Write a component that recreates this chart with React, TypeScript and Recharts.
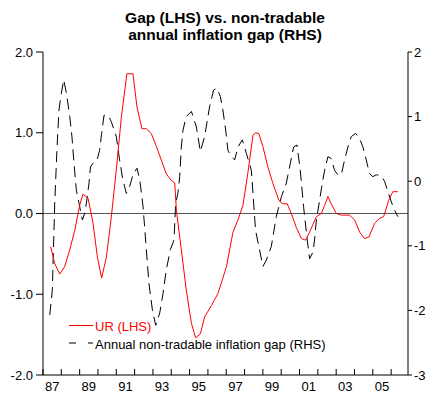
import { LineChart, Line, XAxis, YAxis, ReferenceLine, Legend } from 'recharts'

// UR gap, left axis (year as decimal)
const urYears = [
  1987.42, 1987.64, 1987.91, 1988.18, 1988.46, 1988.73, 1989.0, 1989.18, 1989.46, 1989.73,
  1989.97, 1990.2, 1990.46, 1990.73, 1991.0, 1991.28, 1991.58, 1991.91, 1992.13, 1992.4,
  1992.64, 1992.91, 1993.19, 1993.46, 1993.73, 1994.0, 1994.19, 1994.28, 1994.55, 1994.82,
  1995.1, 1995.33, 1995.59, 1995.82, 1996.19, 1996.55, 1997.01, 1997.37, 1997.64, 1997.91,
  1998.18, 1998.46, 1998.59, 1998.78, 1999.0, 1999.27, 1999.55, 1999.88, 2000.09, 2000.33,
  2000.55, 2000.82, 2001.1, 2001.33, 2001.55, 2001.92, 2002.19, 2002.37, 2002.55, 2002.73,
  2003.01, 2003.28, 2003.73, 2004.01, 2004.28, 2004.55, 2004.79, 2005.1, 2005.37, 2005.59,
  2005.86, 2006.09, 2006.37,
]
const urValues = [
  -0.41, -0.62, -0.75, -0.66, -0.45, -0.21, 0.1, 0.24, 0.19, -0.12,
  -0.54, -0.8, -0.54, -0.04, 0.54, 1.2, 1.73, 1.73, 1.32, 1.05,
  1.05, 0.99, 0.83, 0.66, 0.49, 0.41, 0.38, 0.04, -0.45, -0.95,
  -1.36, -1.54, -1.49, -1.28, -1.14, -0.99, -0.66, -0.23, -0.08, 0.1,
  0.5, 0.97, 1.0, 0.99, 0.83, 0.58, 0.37, 0.16, 0.12, 0.12,
  0.0, -0.17, -0.31, -0.33, -0.23, -0.04, 0.0, 0.1, 0.21, 0.12,
  0.0, -0.02, -0.02, -0.08, -0.23, -0.31, -0.29, -0.12, -0.06, -0.04,
  0.16, 0.27, 0.27,
]

// annual non-tradable inflation gap, right axis
const gapYears = [
  1987.37, 1987.51, 1987.64, 1987.76, 1987.87, 1988.0, 1988.13, 1988.28, 1988.46, 1988.58,
  1988.69, 1988.82, 1989.0, 1989.15, 1989.27, 1989.37, 1989.51, 1989.59, 1989.73, 1989.95,
  1990.09, 1990.2, 1990.33, 1990.55, 1990.73, 1991.0, 1991.18, 1991.36, 1991.55, 1991.73,
  1991.91, 1992.13, 1992.28, 1992.46, 1992.64, 1992.78, 1992.97, 1993.15, 1993.37, 1993.55,
  1993.73, 1993.95, 1994.15, 1994.24, 1994.36, 1994.46, 1994.55, 1994.64, 1994.82, 1995.1,
  1995.37, 1995.59, 1995.82, 1996.09, 1996.31, 1996.49, 1996.68, 1996.82, 1996.97, 1997.09,
  1997.28, 1997.46, 1997.64, 1997.88, 1998.1, 1998.37, 1998.46, 1998.6, 1998.78, 1999.0,
  1999.19, 1999.46, 1999.73, 2000.01, 2000.28, 2000.5, 2000.68, 2000.86, 2001.04, 2001.22,
  2001.4, 2001.55, 2001.73, 2001.82, 2001.92, 2002.1, 2002.24, 2002.37, 2002.55, 2002.73,
  2002.91, 2003.09, 2003.28, 2003.46, 2003.64, 2003.82, 2004.06, 2004.28, 2004.46, 2004.64,
  2004.82, 2005.0, 2005.19, 2005.46, 2005.64, 2005.82, 2006.01, 2006.19, 2006.37,
]
const gapValues = [
  -2.07, -1.68, -0.34, 0.48, 1.1, 1.36, 1.57, 1.36, 1.0, 0.69,
  0.28, -0.14, -0.39, -0.6, -0.5, -0.34, -0.03, 0.22, 0.28, 0.33,
  0.48, 0.74, 1.02, 1.02, 0.92, 0.69, 0.33, 0.02, -0.19, -0.08,
  0.1, 0.2, 0.02, -0.39, -1.06, -1.58, -1.99, -2.23, -2.04, -1.74,
  -1.37, -1.06, -0.91, -0.34, -0.19, 0.07, 0.53, 0.79, 1.0, 1.08,
  0.84, 0.46, 0.69, 1.15, 1.41, 1.44, 1.31, 1.1, 0.79, 0.48,
  0.38, 0.33, 0.53, 0.64, 0.43, 0.17, -0.19, -0.76, -1.01, -1.32,
  -1.22, -1.01, -0.55, -0.24, -0.03, 0.28, 0.53, 0.56, 0.17, -0.39,
  -0.86, -1.2, -1.1, -0.91, -0.6, -0.29, -0.03, 0.17, 0.38, 0.35,
  0.17, 0.1, 0.1, 0.33, 0.53, 0.69, 0.74, 0.66, 0.53, 0.33,
  0.12, 0.07, 0.1, 0.08, 0.0, -0.16, -0.32, -0.45, -0.55,
]

const leftTicks = [-2, -1, 0, 1, 2]
const rightTicks = [-3, -2, -1, 0, 1, 2]
const yearTicks = [
  1987, 1988, 1989, 1990, 1991, 1992, 1993, 1994, 1995, 1996,
  1997, 1998, 1999, 2000, 2001, 2002, 2003, 2004, 2005, 2006,
]
const labelYears = [1987.5, 1989.5, 1991.5, 1993.5, 1995.5, 1997.5, 1999.5, 2001.5, 2003.5, 2005.5]
const yearLabels = ['87', '89', '91', '93', '95', '97', '99', '01', '03', '05']

const urData = urYears.map((year, i) => ({ year, ur: urValues[i] }))
const gapData = gapYears.map((year, i) => ({ year, gap: gapValues[i] }))
const xTicks = [...yearTicks, ...labelYears].sort((a, b) => a - b)

const font = '"Liberation Sans", Arial, sans-serif'

// year ticks point up into the plot, labels sit between them
function YearTick({ x, y, payload }: any) {
  const i = labelYears.indexOf(payload.value)
  if (i >= 0) {
    return (
      <text x={x} y={y + 16} textAnchor="middle" fontSize={13} fill="#000">
        {yearLabels[i]}
      </text>
    )
  }
  return <line x1={x} x2={x} y1={y} y2={y - 6} stroke="#000" />
}

function LegendBox() {
  return (
    <svg width={300} height={40} style={{ display: 'block', overflow: 'visible' }}>
      <line x1={1} x2={25} y1={11.5} y2={11.5} stroke="#ff0000" />
      <text x={27} y={17} fontSize={13} fill="#ff0000">UR (LHS)</text>
      <line x1={1} x2={25} y1={29} y2={29} stroke="#000" strokeDasharray="7 12" />
      <text x={27} y={34.5} fontSize={13} fill="#000">Annual non-tradable inflation gap (RHS)</text>
    </svg>
  )
}

export default function App() {
  return (
    <div style={{ position: 'relative', width: 427, height: 403, fontFamily: font, background: '#fff' }}>
      <style>{'body{margin:0}'}</style>
      <div
        style={{
          position: 'absolute',
          top: 10,
          left: 0,
          width: 450,
          textAlign: 'center',
          fontWeight: 'bold',
          fontSize: 15.5,
          lineHeight: '16.5px',
          color: '#000',
        }}
      >
        Gap (LHS) vs. non-tradable
        <br />
        annual inflation gap (RHS)
      </div>
      <LineChart width={427} height={403} margin={{ top: 52, right: 0, bottom: 0, left: 0 }}>
        <XAxis
          type="number"
          dataKey="year"
          domain={[1987, 2006.92]}
          allowDataOverflow
          ticks={xTicks}
          interval={0}
          tick={<YearTick />}
          tickLine={false}
          tickSize={0}
          tickMargin={0}
          height={28}
          stroke="#000"
        />
        <YAxis
          yAxisId="left"
          domain={[-2, 2]}
          ticks={leftTicks}
          interval={0}
          tickFormatter={(v: number) => v.toFixed(1)}
          width={43}
          tickSize={7}
          tickMargin={3}
          stroke="#000"
          tick={{ fill: '#000', fontSize: 13 }}
        />
        <YAxis
          yAxisId="right"
          orientation="right"
          domain={[-3, 2]}
          ticks={rightTicks}
          interval={0}
          width={19}
          tickSize={4}
          tickMargin={2}
          stroke="#000"
          tick={{ fill: '#000', fontSize: 13 }}
        />
        <ReferenceLine yAxisId="left" y={0} stroke="#555" />
        <Line
          yAxisId="right"
          data={gapData}
          dataKey="gap"
          type="linear"
          stroke="#000"
          strokeWidth={1}
          strokeDasharray="11 6"
          dot={false}
          isAnimationActive={false}
        />
        <Line
          yAxisId="left"
          data={urData}
          dataKey="ur"
          type="linear"
          stroke="#ff0000"
          strokeWidth={1}
          dot={false}
          isAnimationActive={false}
        />
        <Legend
          layout="vertical"
          align="center"
          verticalAlign="middle"
          wrapperStyle={{ left: 68, top: 314, width: 300 }}
          content={<LegendBox />}
        />
      </LineChart>
    </div>
  )
}
